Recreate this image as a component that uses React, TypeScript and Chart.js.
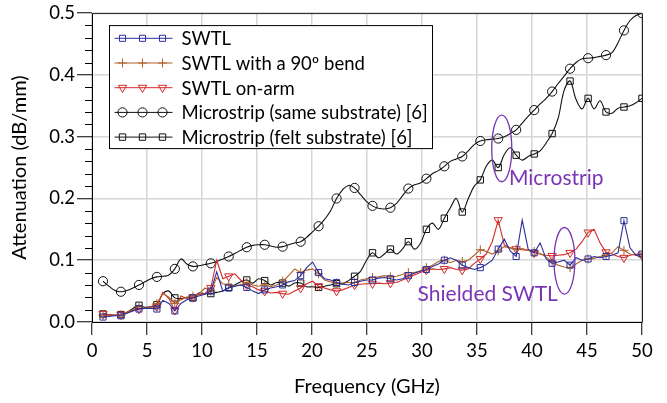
import React, { useEffect, useRef } from "react";
import { Chart, registerables } from "chart.js";
import { drawPoint } from "chart.js/helpers";

Chart.register(...registerables);

// ---------------- data ----------------
const FREQ = [
  1.0, 1.54, 2.09, 2.63, 3.18, 3.72, 4.27, 4.81, 5.36, 5.9, 6.44, 6.99, 7.53, 8.08, 8.62, 9.17,
  9.71, 10.26, 10.8, 11.34, 11.89, 12.43, 12.98, 13.52, 14.07, 14.61, 15.15, 15.7, 16.24, 16.79,
  17.33, 17.88, 18.42, 18.97, 19.51, 20.05, 20.6, 21.14, 21.69, 22.23, 22.78, 23.32, 23.87, 24.41,
  24.96, 25.5, 26.04, 26.59, 27.13, 27.68, 28.22, 28.76, 29.31, 29.85, 30.4, 30.94, 31.49, 32.03,
  32.58, 33.12, 33.66, 34.21, 34.75, 35.3, 35.84, 36.39, 36.93, 37.48, 38.02, 38.56, 39.11, 39.65,
  40.2, 40.74, 41.29, 41.83, 42.38, 42.92, 43.46, 44.01, 44.55, 45.1, 45.64, 46.19, 46.73, 47.28,
  47.82, 48.36, 48.91, 49.45, 50.0,
];

const SWTL = [
  0.008, 0.009, 0.01, 0.01, 0.014, 0.018, 0.021, 0.022, 0.022, 0.021, 0.035, 0.03, 0.018, 0.03,
  0.036, 0.039, 0.042, 0.045, 0.05, 0.081, 0.05, 0.055, 0.058, 0.06, 0.056, 0.05, 0.046, 0.052,
  0.055, 0.057, 0.06, 0.065, 0.067, 0.075, 0.088, 0.097, 0.08, 0.07, 0.068, 0.064, 0.061, 0.06,
  0.064, 0.066, 0.068, 0.068, 0.071, 0.072, 0.07, 0.068, 0.07, 0.075, 0.079, 0.082, 0.085, 0.09,
  0.094, 0.1, 0.104, 0.1, 0.092, 0.088, 0.085, 0.088, 0.093, 0.1, 0.118, 0.134, 0.115, 0.106,
  0.165, 0.118, 0.112, 0.128, 0.102, 0.095, 0.097, 0.1, 0.092, 0.104, 0.1, 0.102, 0.106, 0.104,
  0.106, 0.108, 0.112, 0.164, 0.12, 0.108, 0.11,
];

const SWTL_BEND = [
  0.011, 0.01, 0.011, 0.012, 0.016, 0.02, 0.025, 0.022, 0.025, 0.03, 0.046, 0.04, 0.03, 0.036,
  0.04, 0.042, 0.045, 0.055, 0.05, 0.072, 0.062, 0.06, 0.058, 0.06, 0.064, 0.06, 0.058, 0.06,
  0.057, 0.06, 0.066, 0.075, 0.086, 0.08, 0.084, 0.086, 0.078, 0.068, 0.065, 0.063, 0.063, 0.064,
  0.064, 0.068, 0.07, 0.072, 0.073, 0.075, 0.073, 0.074, 0.077, 0.08, 0.08, 0.083, 0.088, 0.092,
  0.098, 0.1, 0.096, 0.1, 0.098, 0.1, 0.108, 0.117, 0.114, 0.11, 0.115, 0.122, 0.12, 0.118, 0.119,
  0.116, 0.114, 0.111, 0.105, 0.098, 0.092, 0.089, 0.088, 0.094, 0.1, 0.102, 0.103, 0.106, 0.108,
  0.112, 0.122, 0.116, 0.11, 0.108, 0.106,
];

const SWTL_ARM = [
  0.013, 0.012, 0.011, 0.012, 0.015, 0.019, 0.021, 0.022, 0.024, 0.025, 0.048, 0.038, 0.019,
  0.042, 0.038, 0.04, 0.044, 0.046, 0.055, 0.1, 0.07, 0.074, 0.078, 0.068, 0.06, 0.057, 0.052,
  0.05, 0.047, 0.048, 0.046, 0.045, 0.05, 0.055, 0.062, 0.066, 0.058, 0.055, 0.052, 0.05, 0.052,
  0.056, 0.06, 0.061, 0.062, 0.062, 0.063, 0.062, 0.063, 0.064, 0.068, 0.072, 0.076, 0.08, 0.084,
  0.086, 0.085, 0.086, 0.088, 0.085, 0.084, 0.086, 0.095, 0.102, 0.11, 0.13, 0.165, 0.125, 0.12,
  0.118, 0.117, 0.116, 0.112, 0.11, 0.108, 0.107, 0.108, 0.109, 0.112, 0.118, 0.13, 0.145, 0.15,
  0.128, 0.113, 0.11, 0.106, 0.104, 0.108, 0.11, 0.108,
];

const MS_SAME = [
  0.066, 0.058, 0.051, 0.049, 0.051, 0.055, 0.06, 0.065, 0.07, 0.073, 0.074, 0.076, 0.086, 0.102,
  0.094, 0.09, 0.091, 0.093, 0.095, 0.098, 0.102, 0.106, 0.111, 0.116, 0.121, 0.124, 0.125, 0.125,
  0.123, 0.121, 0.122, 0.125, 0.128, 0.13, 0.137, 0.146, 0.155, 0.166, 0.18, 0.2, 0.214, 0.221,
  0.217, 0.206, 0.195, 0.188, 0.184, 0.183, 0.185, 0.192, 0.204, 0.216, 0.222, 0.225, 0.232, 0.24,
  0.245, 0.252, 0.26, 0.264, 0.268, 0.277, 0.287, 0.293, 0.295, 0.296, 0.297, 0.3, 0.305, 0.311,
  0.322, 0.333, 0.343, 0.353, 0.362, 0.373, 0.386, 0.398, 0.41, 0.42, 0.426, 0.427, 0.428, 0.43,
  0.432, 0.436, 0.452, 0.472, 0.488, 0.496, 0.5,
];

const MS_FELT = [
  0.013, 0.012, 0.011, 0.012, 0.016, 0.022, 0.027, 0.024, 0.025, 0.028, 0.046, 0.05, 0.039, 0.038,
  0.04, 0.039, 0.047, 0.046, 0.046, 0.048, 0.05, 0.056, 0.06, 0.065, 0.068, 0.063, 0.07, 0.067,
  0.06, 0.064, 0.063, 0.058, 0.063, 0.063, 0.057, 0.057, 0.056, 0.058, 0.06, 0.062, 0.062, 0.067,
  0.074, 0.082, 0.1, 0.112, 0.104, 0.11, 0.118, 0.11, 0.118, 0.13, 0.118, 0.127, 0.15, 0.16, 0.15,
  0.168, 0.185, 0.2, 0.178, 0.2, 0.22, 0.23, 0.252, 0.262, 0.25, 0.271, 0.282, 0.27, 0.262, 0.268,
  0.272, 0.277, 0.29, 0.305, 0.33, 0.375, 0.39, 0.36, 0.345, 0.362, 0.345, 0.358, 0.34, 0.338,
  0.346, 0.348, 0.35, 0.355, 0.362,
];

const LEGEND_LABELS = [
  "SWTL",
  "SWTL with a 90\u00ba bend",
  "SWTL on-arm",
  "Microstrip (same substrate) [6]",
  "Microstrip (felt substrate) [6]",
];

const X_TITLE = "Frequency (GHz)";
const Y_TITLE = "Attenuation (dB/mm)";
const ANNOT_MICROSTRIP = "Microstrip";
const ANNOT_SHIELDED = "Shielded SWTL";

// annotation anchors (data coordinates)
const ELLIPSE_MS = { f: 37.25, v: 0.281, df: 0.91, dv: 0.054 };
const ELLIPSE_SW = { f: 42.95, v: 0.099, df: 0.95, dv: 0.054 };
const TEXT_MS = { f: 37.9, v: 0.222 };
const TEXT_SW = { f: 29.6, v: 0.034 };

// ---------------- styles ----------------
const FONT = "Lato, 'Liberation Sans', sans-serif";
const PURPLE = "#7a35b5";
const MARK_EVERY = 3;

const SERIES = [
  { label: LEGEND_LABELS[0], data: SWTL, color: "#2b2f9c", style: "rect", rot: 0, r: 4.3, tension: 0 },
  { label: LEGEND_LABELS[1], data: SWTL_BEND, color: "#b0602a", style: "cross", rot: 0, r: 4.5, tension: 0 },
  { label: LEGEND_LABELS[2], data: SWTL_ARM, color: "#d42a2a", style: "triangle", rot: 180, r: 4.8, tension: 0 },
  { label: LEGEND_LABELS[3], data: MS_SAME, color: "#111111", style: "circle", rot: 0, r: 4.6, tension: 0.4 },
  { label: LEGEND_LABELS[4], data: MS_FELT, color: "#111111", style: "rect", rot: 0, r: 4.5, tension: 0.35 },
];

const overlayPlugin = {
  id: "overlay",
  afterDatasetsDraw(chart: any) {
    const { ctx, chartArea: ca, scales } = chart;
    const xs = scales.x;
    const ys = scales.y;
    ctx.save();

    // top and right frame
    ctx.strokeStyle = "#222";
    ctx.lineWidth = 1;
    ctx.beginPath();
    ctx.moveTo(ca.left, ca.top + 0.5);
    ctx.lineTo(ca.right + 0.5, ca.top + 0.5);
    ctx.lineTo(ca.right + 0.5, ca.bottom);
    ctx.stroke();

    // minor ticks on y
    ctx.strokeStyle = "#000";
    ctx.beginPath();
    for (let i = 1; i < 25; i++) {
      if (i % 5 === 0) continue;
      const y = Math.round(ys.getPixelForValue(i * 0.02)) + 0.5;
      ctx.moveTo(ca.left - 7, y);
      ctx.lineTo(ca.left, y);
    }
    ctx.stroke();

    // annotations
    ctx.strokeStyle = PURPLE;
    ctx.lineWidth = 1.3;
    for (const e of [ELLIPSE_MS, ELLIPSE_SW]) {
      const cx = xs.getPixelForValue(e.f);
      const cy = ys.getPixelForValue(e.v);
      const rx = xs.getPixelForValue(e.f + e.df) - cx;
      const ry = cy - ys.getPixelForValue(e.v + e.dv);
      ctx.beginPath();
      ctx.ellipse(cx, cy, rx, ry, 0, 0, Math.PI * 2);
      ctx.stroke();
    }
    ctx.fillStyle = PURPLE;
    ctx.font = `21px ${FONT}`;
    ctx.textBaseline = "alphabetic";
    ctx.textAlign = "left";
    ctx.fillText(ANNOT_MICROSTRIP, xs.getPixelForValue(TEXT_MS.f), ys.getPixelForValue(TEXT_MS.v));
    ctx.fillText(ANNOT_SHIELDED, xs.getPixelForValue(TEXT_SW.f), ys.getPixelForValue(TEXT_SW.v));

    // legend
    const lx = ca.left + 17.5;
    const ly = ca.top + 12.5;
    const lw = 323;
    const lh = 123;
    ctx.fillStyle = "#fff";
    ctx.fillRect(lx, ly, lw, lh);
    ctx.strokeStyle = "#000";
    ctx.lineWidth = 1;
    ctx.strokeRect(lx, ly, lw, lh);
    ctx.font = `18.5px ${FONT}`;
    ctx.textBaseline = "middle";
    SERIES.forEach((s, i) => {
      const y = ly + 12.7 + i * 24.7;
      ctx.strokeStyle = s.color;
      ctx.lineWidth = 1;
      ctx.beginPath();
      ctx.moveTo(lx + 5, y);
      ctx.lineTo(lx + 63, y);
      ctx.stroke();
      for (const mx of [13, 33, 53]) {
        ctx.strokeStyle = s.color;
        ctx.fillStyle = "rgba(0,0,0,0)";
        drawPoint(ctx, { pointStyle: s.style, rotation: s.rot, radius: s.r, borderWidth: 1 }, lx + mx, y);
      }
      ctx.fillStyle = "#000";
      ctx.fillText(s.label, lx + 72, y + 1);
    });
    ctx.restore();
  },
};

export default function App() {
  const ref = useRef<HTMLCanvasElement | null>(null);
  useEffect(() => {
    if (!ref.current) return;
    const datasets = SERIES.map((s) => ({
      label: s.label,
      data: FREQ.map((f, i) => ({ x: f, y: s.data[i] })),
      borderColor: s.color,
      borderWidth: 1.1,
      backgroundColor: "rgba(0,0,0,0)",
      pointStyle: s.style,
      pointRotation: s.rot,
      pointBorderColor: s.color,
      pointBackgroundColor: "rgba(0,0,0,0)",
      pointBorderWidth: 1,
      pointRadius: (c: any) => (c.dataIndex % MARK_EVERY === 0 ? s.r : 0),
      pointHoverRadius: 0,
      tension: s.tension,
      fill: false,
    }));
    const tickFont = { family: FONT, size: 18.5 };
    const titleFont = { family: FONT, size: 20 };
    const chart = new Chart(ref.current, {
      type: "line",
      data: { datasets },
      plugins: [overlayPlugin],
      options: {
        responsive: false,
        animation: false,
        events: [],
        layout: { padding: { left: 0, top: 13, right: 25, bottom: 0 } },
        plugins: { legend: { display: false }, tooltip: { enabled: false } },
        scales: {
          x: {
            type: "linear",
            min: 0,
            max: 50,
            ticks: { stepSize: 5, font: tickFont, color: "#000", padding: 5, maxRotation: 0 },
            grid: { color: "#d6d6d6", lineWidth: 1.5, tickColor: "#000", tickLength: 13, tickWidth: 1 },
            border: { color: "#000", width: 1 },
            title: { display: true, text: X_TITLE, font: titleFont, color: "#000", padding: { top: 0, bottom: 4 } },
            afterFit: (s: any) => {
              s.height = 81;
            },
          },
          y: {
            min: 0,
            max: 0.5,
            ticks: {
              stepSize: 0.1,
              font: tickFont,
              color: "#000",
              padding: 2,
              callback: (v: any) => Number(v).toFixed(1),
            },
            grid: { color: "#d6d6d6", lineWidth: 1.5, tickColor: "#000", tickLength: 15, tickWidth: 1 },
            border: { color: "#000", width: 1 },
            title: { display: true, text: Y_TITLE, font: titleFont, color: "#000", padding: { top: 8, bottom: 0 } },
            afterFit: (s: any) => {
              s.width = 92;
            },
          },
        },
      },
    } as any);
    return () => chart.destroy();
  }, []);
  return (
    <div style={{ position: "fixed", left: 0, top: 0, width: 667, height: 403, background: "#fff" }}>
      <canvas ref={ref} width={667} height={403} style={{ display: "block" }} />
    </div>
  );
}
